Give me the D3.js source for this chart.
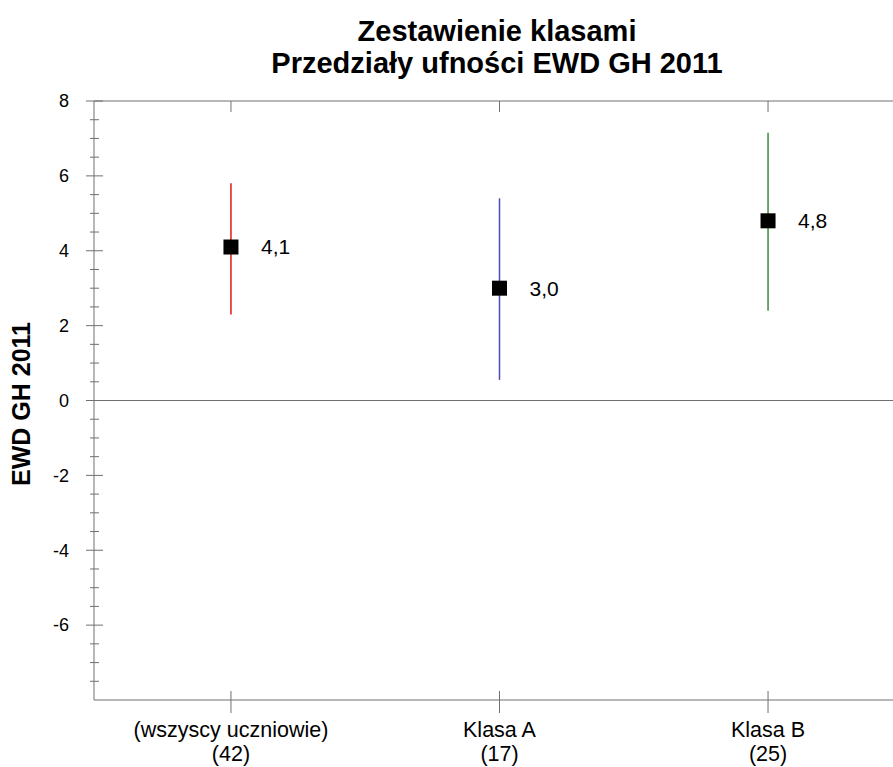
<!DOCTYPE html>
<html><head><meta charset="utf-8">
<script src="https://cdn.jsdelivr.net/npm/d3@7"></script>
<style>body{margin:0;background:#fff}svg{display:block}text{font-family:"Liberation Sans",Arial,sans-serif}</style>
</head><body>
<svg id="c" width="893" height="767"></svg>
<script>
const categories = ["(wszyscy uczniowie)", "Klasa A", "Klasa B"];
const counts = ["(42)", "(17)", "(25)"];
const means = [4.1, 3.0, 4.8];
const lower = [2.3, 0.55, 2.4];
const upper = [5.8, 5.4, 7.15];
const meanLabels = ["4,1", "3,0", "4,8"];
const colors = ["#e01818", "#4a4ab8", "#3a8a3a"];
const yTicks = [-6, -4, -2, 0, 2, 4, 6, 8];

const svg = d3.select("#c");
const L = 94, R = 905, T = 101, B = 700;
const x = d3.scalePoint().domain(categories).range([L, R]).padding(0.51);
const y = d3.scaleLinear().domain([-8, 8]).range([B, T]);
const axisCol = "#707070";

// Title
svg.append("text").attr("x", 497).attr("y", 41).attr("text-anchor", "middle")
  .attr("font-size", 29).attr("font-weight", "bold").text("Zestawienie klasami");
svg.append("text").attr("x", 497).attr("y", 73).attr("text-anchor", "middle")
  .attr("font-size", 29).attr("font-weight", "bold").text("Przedziały ufności EWD GH 2011");

// frame lines (top, bottom, left)
svg.append("line").attr("x1", L).attr("x2", 893).attr("y1", T).attr("y2", T).attr("stroke", axisCol);
svg.append("line").attr("x1", L).attr("x2", 893).attr("y1", B).attr("y2", B).attr("stroke", axisCol);
svg.append("line").attr("x1", L).attr("x2", L).attr("y1", T).attr("y2", B).attr("stroke", axisCol);
// zero line
svg.append("line").attr("x1", L).attr("x2", 893).attr("y1", y(0)).attr("y2", y(0)).attr("stroke", axisCol);

// y minor ticks
const minor = d3.range(-8, 8.01, 0.5).filter(v => v % 2 !== 0);
svg.selectAll(".mn").data(minor).join("line")
  .attr("x1", L - 4).attr("x2", L + 5).attr("y1", d => y(d)).attr("y2", d => y(d)).attr("stroke", axisCol);
svg.selectAll(".mj").data(yTicks).join("line")
  .attr("x1", L - 8).attr("x2", L + 9).attr("y1", d => y(d)).attr("y2", d => y(d)).attr("stroke", axisCol);
svg.selectAll(".yl").data(yTicks).join("text")
  .attr("x", 69).attr("y", d => y(d)).attr("dy", "0.35em").attr("text-anchor", "end")
  .attr("font-size", 18).text(d => d);

// y label
svg.append("text").attr("transform", `translate(30,404) rotate(-90)`)
  .attr("text-anchor", "middle").attr("font-size", 25).attr("font-weight", "bold").text("EWD GH 2011");

// x ticks
svg.selectAll(".xtb").data(categories).join("line")
  .attr("x1", d => x(d)).attr("x2", d => x(d)).attr("y1", B - 9).attr("y2", B + 13).attr("stroke", axisCol);
svg.selectAll(".xtt").data(categories).join("line")
  .attr("x1", d => x(d)).attr("x2", d => x(d)).attr("y1", T).attr("y2", T + 11).attr("stroke", axisCol);
svg.selectAll(".xl").data(categories).join("text")
  .attr("x", d => x(d)).attr("y", 737).attr("text-anchor", "middle").attr("font-size", 21.5).text(d => d);
svg.selectAll(".xc").data(counts).join("text")
  .attr("x", (d, i) => x(categories[i])).attr("y", 761).attr("text-anchor", "middle").attr("font-size", 21.5).text(d => d);

// error bars
svg.selectAll(".eb").data(categories).join("line")
  .attr("x1", d => x(d)).attr("x2", d => x(d))
  .attr("y1", (d, i) => y(upper[i])).attr("y2", (d, i) => y(lower[i]))
  .attr("stroke", (d, i) => colors[i]).attr("stroke-width", 1.5);
// mean markers
svg.selectAll(".mk").data(categories).join("rect")
  .attr("x", d => x(d) - 7.5).attr("y", (d, i) => y(means[i]) - 7.5)
  .attr("width", 15).attr("height", 15).attr("fill", "#000");
svg.selectAll(".ml").data(categories).join("text")
  .attr("x", d => x(d) + 30).attr("y", (d, i) => y(means[i])).attr("dy", "0.35em")
  .attr("font-size", 21).text((d, i) => meanLabels[i]);
</script>
</body></html>
